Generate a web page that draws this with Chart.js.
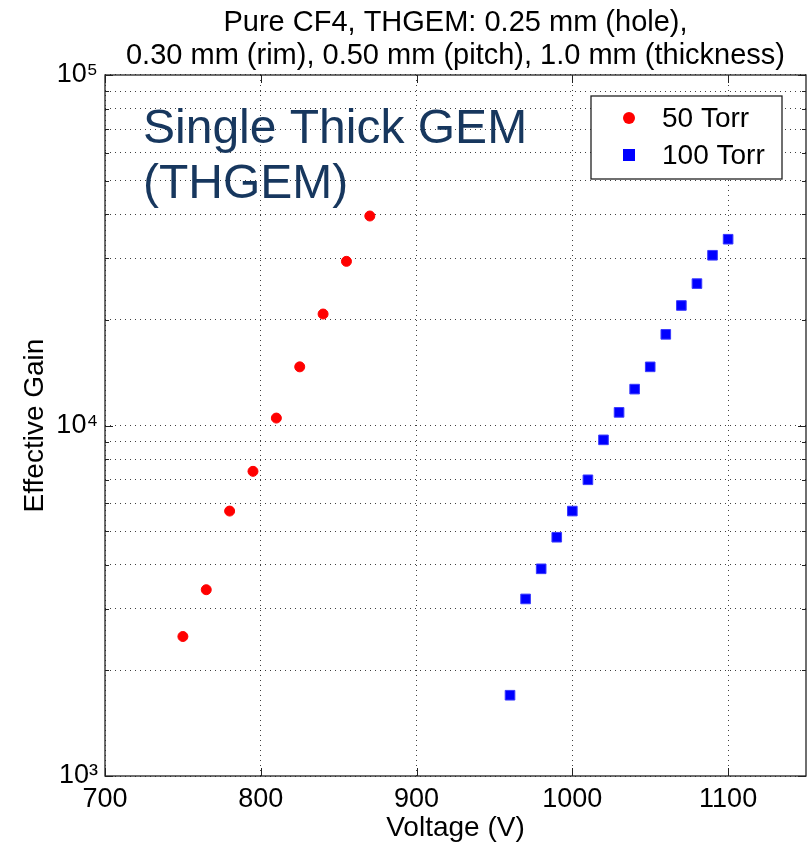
<!DOCTYPE html>
<html>
<head>
<meta charset="utf-8">
<script src="https://cdn.jsdelivr.net/npm/chart.js@4.4.1/dist/chart.umd.min.js"></script>
<style>
  html, body { margin: 0; padding: 0; background: #fff; overflow: hidden; }
  canvas { display: block; }
</style>
</head>
<body>
<canvas id="gain" width="809" height="845"></canvas>
<script>
// THGEM effective gain vs. voltage in pure CF4

const voltage50 = [750, 765, 780, 795, 810, 825, 840, 855, 870];
const gain50 = [2500, 3400, 5700, 7400, 10500, 14700, 20800, 29400, 39600];

const voltage100 = [960, 970, 980, 990, 1000, 1010, 1020, 1030, 1040, 1050, 1060, 1070, 1080, 1090, 1100];
const gain100 = [1700, 3200, 3900, 4800, 5700, 7000, 9100, 10900, 12700, 14700, 18200, 22000, 25400, 30600, 34000];

const xTicks = [700, 800, 900, 1000, 1100];
const yDecades = [1000, 10000, 100000];
const yLabels = ['10\u00B3', '10\u2074', '10\u2075'];

const titleLines = ['Pure CF4, THGEM: 0.25 mm (hole),', '0.30 mm (rim), 0.50 mm (pitch), 1.0 mm (thickness)'];
const noteLines = ['Single Thick GEM', '(THGEM)'];

const FONT = "'Liberation Sans', Arial, sans-serif";

// every 1..9 x decade gets a dotted grid line
const yTicks = [];
for (let d = 0; d < yDecades.length - 1; d++) {
  for (let m = 1; m < 10; m++) yTicks.push(yDecades[d] * m);
}
yTicks.push(yDecades[yDecades.length - 1]);

const toPoints = (xs, ys) => xs.map((x, i) => ({ x: x, y: ys[i] }));

// box around the plot area plus inward tick marks (MATLAB style)
const frame = {
  id: 'frame',
  afterDatasetsDraw(chart) {
    const a = chart.chartArea, ctx = chart.ctx;
    const xs = chart.scales.x, ys = chart.scales.y;
    ctx.save();
    ctx.strokeStyle = '#222';
    ctx.lineWidth = 1;
    ctx.beginPath();
    xTicks.forEach(v => {
      const px = Math.round(xs.getPixelForValue(v)) + 0.5;
      ctx.moveTo(px, a.bottom); ctx.lineTo(px, a.bottom - 8);
      ctx.moveTo(px, a.top); ctx.lineTo(px, a.top + 8);
    });
    yTicks.forEach(v => {
      const py = Math.round(ys.getPixelForValue(v)) + 0.5;
      const len = yDecades.includes(v) ? 8 : 4;
      ctx.moveTo(a.left, py); ctx.lineTo(a.left + len, py);
      ctx.moveTo(a.right, py); ctx.lineTo(a.right - len, py);
    });
    ctx.stroke();
    ctx.lineWidth = 1.3;
    ctx.strokeRect(a.left, a.top, a.right - a.left, a.bottom - a.top);
    ctx.restore();
  }
};

// the blue annotation text
const note = {
  id: 'note',
  afterDatasetsDraw(chart) {
    const ctx = chart.ctx;
    ctx.save();
    ctx.fillStyle = '#17375e';
    ctx.font = '48px ' + FONT;
    ctx.textBaseline = 'alphabetic';
    ctx.textAlign = 'left';
    ctx.fillText(noteLines[0], 143, 143);
    ctx.fillText(noteLines[1], 143, 198);
    ctx.restore();
  }
};

// boxed legend in the upper right corner
const boxLegend = {
  id: 'boxLegend',
  afterDraw(chart) {
    const ctx = chart.ctx;
    const x0 = 591, y0 = 96, w = 191, h = 83;
    ctx.save();
    ctx.fillStyle = '#fff';
    ctx.fillRect(x0, y0, w, h);
    ctx.strokeStyle = '#222';
    ctx.lineWidth = 1.3;
    ctx.strokeRect(x0, y0, w, h);
    ctx.font = '28px ' + FONT;
    ctx.textBaseline = 'middle';
    chart.data.datasets.forEach((ds, i) => {
      const cy = 118 + i * 37;
      ctx.fillStyle = ds.backgroundColor;
      if (ds.pointStyle === 'rect') {
        ctx.fillRect(623, cy - 6, 12, 12);
      } else {
        ctx.beginPath();
        ctx.arc(629, cy, 6, 0, Math.PI * 2);
        ctx.fill();
      }
      ctx.fillStyle = '#000';
      ctx.fillText(ds.label, 662, cy + 1);
    });
    ctx.restore();
  }
};

new Chart(document.getElementById('gain'), {
  type: 'scatter',
  data: {
    datasets: [{
      label: '50 Torr',
      data: toPoints(voltage50, gain50),
      pointStyle: 'circle',
      pointRadius: 5,
      borderWidth: 1,
      backgroundColor: '#ff0000',
      borderColor: '#ff0000'
    }, {
      label: '100 Torr',
      data: toPoints(voltage100, gain100),
      pointStyle: 'rect',
      pointRadius: 6.8,
      borderWidth: 1,
      backgroundColor: '#0000ff',
      borderColor: '#3a3aff'
    }]
  },
  options: {
    responsive: false,
    animation: false,
    layout: { autoPadding: false, padding: { left: 0, right: 3, top: 0, bottom: 0 } },
    plugins: {
      legend: { display: false },
      tooltip: { enabled: false },
      title: {
        display: true,
        fullSize: false,
        text: titleLines,
        color: '#000',
        font: { family: FONT, size: 29, weight: 'normal', lineHeight: 1.15 },
        padding: { top: 6, bottom: 2.3 }
      }
    },
    scales: {
      x: {
        type: 'linear',
        min: 700,
        max: 1150,
        afterBuildTicks: (s) => { s.ticks = xTicks.map(v => ({ value: v })); },
        afterFit: (s) => { s.height = 69; s.paddingRight = 0; s.paddingLeft = 0; },
        grid: { color: 'rgba(0,0,0,0.75)', lineWidth: 1, drawTicks: false },
        border: { display: false, dash: [1, 4] },
        ticks: {
          color: '#000',
          padding: 7,
          maxRotation: 0,
          autoSkip: false,
          font: { family: FONT, size: 27 },
          callback: (v) => String(v)
        },
        title: {
          display: true,
          text: 'Voltage (V)',
          color: '#000',
          font: { family: FONT, size: 28, lineHeight: 1.2 },
          padding: { top: 0, bottom: 0 }
        }
      },
      y: {
        type: 'logarithmic',
        min: 1000,
        max: 100000,
        afterBuildTicks: (s) => { s.ticks = yTicks.map(v => ({ value: v })); },
        afterFit: (s) => { s.width = 105; },
        grid: { color: 'rgba(0,0,0,0.75)', lineWidth: 1, drawTicks: false },
        border: { display: false, dash: [1, 4] },
        ticks: {
          color: '#000',
          padding: 7,
          autoSkip: false,
          font: { family: FONT, size: 27 },
          callback: (v) => {
            const k = yDecades.indexOf(v);
            return k >= 0 ? yLabels[k] : '';
          }
        },
        title: {
          display: true,
          text: 'Effective Gain',
          color: '#000',
          font: { family: FONT, size: 28, lineHeight: 1.2 },
          padding: { top: 18, bottom: 0 }
        }
      }
    }
  },
  plugins: [frame, note, boxLegend]
});
</script>
</body>
</html>
